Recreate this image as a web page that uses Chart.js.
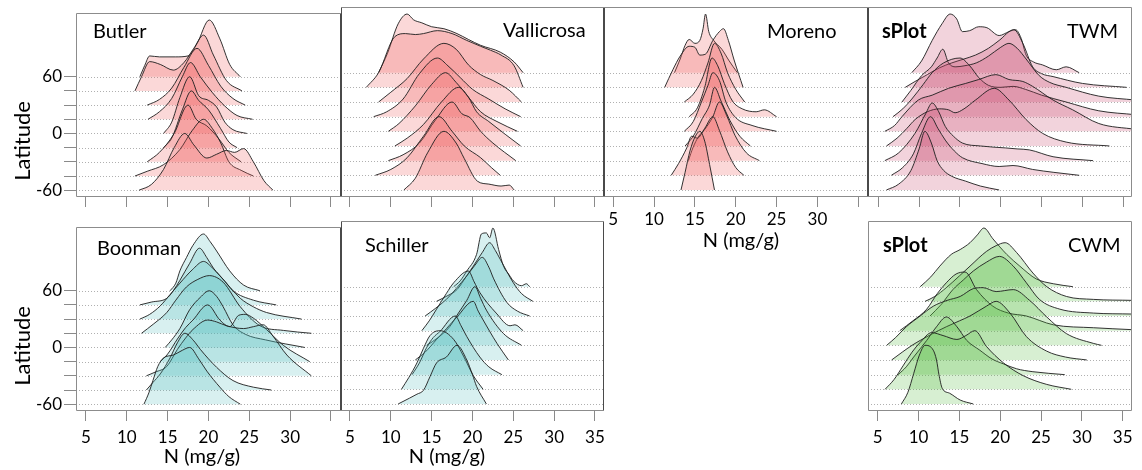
<!DOCTYPE html>
<html><head><meta charset="utf-8">
<script src="https://cdn.jsdelivr.net/npm/chart.js@4.4.1/dist/chart.umd.min.js"></script>
<style>
html,body{margin:0;padding:0;background:#fff;width:1142px;height:470px;overflow:hidden;position:relative}
canvas{position:absolute}
</style></head><body>
<script>
// ---------- data ----------
const baselines = [60, 45, 30, 15, 0, -15, -30, -45, -60];   // latitude of each ridge
const yTickLabels = [60, 0, -60];
const xTickValues = [5, 10, 15, 20, 25, 30, 35];
const xLabelsNone = [];
const xLabelsTo30 = [5, 10, 15, 20, 25, 30];
const xLabelsAll = [5, 10, 15, 20, 25, 30, 35];

// each ridge: [N (mg/g), ridge height in latitude units]
const butler = [
 [[11.6,0],[12.2,12],[12.8,22],[14,21],[16,21],[17.5,22],[18.6,35],[20.1,60],[21.4,40],[22.6,13],[23.9,0]],
 [[11.0,0],[11.8,15],[12.8,31],[14.1,28],[15.7,22],[17.0,30],[18.2,45],[19.4,59],[20.6,38],[22.2,11],[24.1,0]],
 [[12.5,0],[14,6],[15.5,18],[17,40],[18.6,60],[20,42],[21.5,20],[23,7],[24.5,0]],
 [[12.6,0],[14,8],[15.5,22],[16.8,45],[17.8,60],[19,45],[20.5,28],[22,14],[23.5,4],[25.4,0]],
 [[14.5,0],[15.5,12],[16.5,38],[17.7,60],[18.8,40],[20,35],[21,28],[22,12],[23,4],[24.7,0]],
 [[14.5,0],[15.5,10],[16.8,40],[17.9,60],[18.8,50],[20,40],[21.5,20],[22.5,6],[23.5,0]],
 [[12.5,0],[14,10],[15.8,30],[17.5,60],[18.5,45],[19.8,38],[21.3,24],[22.5,10],[24,0]],
 [[11.0,0],[12.5,5],[14.5,12],[16.5,28],[18,48],[19.4,60],[20.5,50],[21.5,35],[22.5,15],[24,6],[25.5,0]],
 [[11.5,0],[13,6],[14.5,22],[15.8,45],[17.1,60],[18.2,48],[19.8,34],[21,38],[22.2,42],[23.2,40],[24.3,44],[25.5,30],[26.8,10],[27.9,0]]
];
const vallicrosa = [
 [[8.5,0],[9.6,20],[10.9,50],[12.0,60],[12.8,54],[13.8,51],[15.0,47],[16.5,45],[18.1,40],[19.5,34],[21,28],[23.4,21],[25.1,11],[26.2,0]],
 [[7.0,0],[8.5,15],[10.5,52],[11.8,55],[13,54],[14,55],[15.7,58],[17.5,55],[19.3,48],[21,42],[22.2,38],[23.5,33],[25.1,22],[26.2,0]],
 [[8.5,0],[10,10],[12,24],[14,44],[16.5,60],[18,54],[19.5,38],[21,28],[22.5,22],[24.5,12],[26,0]],
 [[7.9,0],[9.5,5],[11.5,18],[13.5,44],[15.7,60],[17,52],[18.5,40],[20,28],[22,18],[24,8],[25.9,0]],
 [[9.7,0],[11,8],[13,26],[15,48],[16.7,60],[18,50],[19.5,35],[21,20],[23,10],[25.5,0]],
 [[10.5,0],[12,8],[14,22],[16.2,45],[18.3,60],[19.5,50],[20.5,35],[22,25],[24,12],[25.9,0]],
 [[9.7,0],[11.5,6],[13.5,18],[15.5,42],[17.5,60],[18.7,48],[19.7,44],[21,30],[22.5,18],[25.3,0]],
 [[8.1,0],[10,6],[12,18],[14,40],[15.9,60],[17.5,45],[19,30],[21,18],[22.3,8],[23.4,0]],
 [[11.6,0],[13,12],[14.5,38],[16.5,60],[18,48],[19,32],[20.6,9],[22,6],[23.5,4],[24.5,5],[25.1,0]]
];
const moreno = [
 [[12.5,0],[13.2,14],[13.8,28],[14.3,34],[15,30],[15.6,33],[16.0,45],[16.3,60],[16.7,42],[17.3,33],[18.3,24],[19.2,12],[20.2,0]],
 [[11.3,0],[12.3,18],[13.2,32],[14.3,42],[15,41],[15.6,33],[16.3,34],[17.2,48],[18.0,57],[18.5,60],[19.1,48],[19.8,28],[20.9,0]],
 [[13.7,0],[14.8,8],[15.8,22],[16.6,40],[17.4,60],[18.2,50],[19,30],[20,13],[21.1,0]],
 [[14.3,0],[15.3,9],[16.2,30],[17.1,60],[17.8,52],[18.6,34],[19.6,16],[20.8,8],[22.5,5],[23.5,7],[25,0]],
 [[13.7,0],[14.8,10],[15.8,30],[16.6,47],[17.2,60],[18,52],[18.8,30],[20,14],[22,6],[25,0]],
 [[13.8,0],[14.8,10],[15.9,28],[16.8,42],[17.4,60],[18.2,46],[19.3,26],[20.5,10],[21.8,0]],
 [[14.2,0],[14.8,14],[15.4,24],[16.2,32],[17.2,45],[18,60],[18.9,46],[19.9,26],[21.3,8],[22.9,0]],
 [[12.1,0],[13,12],[14,28],[14.6,40],[15.3,38],[16.2,48],[17.2,60],[18,46],[19,24],[20,8],[21,0]],
 [[13.3,0],[13.8,18],[14.4,40],[15,54],[15.6,60],[16.2,50],[16.8,26],[17.4,0]]
];
const twm = [
 [[9.1,0],[10.3,12],[11.6,33],[12.8,50],[13.8,60],[14.6,55],[15.3,42],[16.2,43],[17.3,47],[18.3,46],[19.8,38],[21,42],[21.8,44],[22.5,35],[23.1,18],[24,11],[25.1,8],[26.8,3],[28,6],[29.6,0]],
 [[8.3,0],[9.5,6],[11,13],[12.5,20],[14,25],[15.5,29],[16.9,33],[18.5,40],[19.8,48],[21.6,59],[22.7,45],[23.9,21],[25,14],[26.4,11],[30,4],[35.4,0]],
 [[7.9,0],[9,12],[10.3,27],[11.5,36],[12.2,45],[12.9,54],[13.6,40],[14.5,36],[15.5,37],[17,40],[18.5,47],[20,56],[21,60],[22,55],[23.1,44],[24.7,27],[26,20],[28,15],[32,6],[36.5,2]],
 [[6.8,0],[8,8],[9.1,18],[10.5,33],[11.6,45],[13,55],[15,60],[16.2,52],[17.3,40],[18.5,32],[20,30],[21.5,31],[23,28],[25,22],[28,15],[32,6],[36.5,2]],
 [[5.8,0],[7,6],[7.9,15],[9.9,32],[11.6,37],[13.6,44],[15.7,49],[17.3,53],[19.4,58],[21,53],[22.7,51],[23.9,46],[26.4,32],[28.8,22],[32,8],[36.5,2]],
 [[6,0],[7.3,8],[8.5,18],[9.5,27],[11,35],[12.5,38],[13.6,37],[14.4,34],[15.5,38],[16.9,47],[19.2,59],[21,47],[23.1,27],[25.1,13],[28,4],[33.3,0]],
 [[5.8,0],[7.5,8],[9.5,28],[10.8,48],[11.6,59],[12.4,50],[13.2,35],[14.2,25],[15.3,18],[17.5,15],[20.6,13],[22,12],[23.5,11],[26.4,4],[31.3,0]],
 [[6.6,0],[8,8],[9.3,22],[10.3,43],[11.4,60],[12.3,48],[13.2,36],[14.3,25],[15.3,18],[17.7,12],[19.8,9],[21.5,10],[23.9,6],[26.5,3],[29.6,0]],
 [[6,0],[7.5,6],[9,20],[10,42],[10.7,60],[11.5,48],[12.2,30],[13,20],[14,14],[15.7,9],[17.5,4],[19.8,0]]
];
const boonman = [
 [[15.3,0],[16,8],[16.5,21],[17.3,35],[18.1,48],[19.4,60],[20.2,52],[21,42],[22.6,21],[24.3,6],[26.3,0]],
 [[11.6,0],[13,3],[14.9,7],[15.7,15],[16.5,26],[17.7,44],[18.9,60],[19.8,50],[20.6,39],[22,25],[23,15],[25.5,5],[28.3,0]],
 [[11.6,0],[12.8,5],[14.1,14],[15.3,26],[16.5,38],[18,52],[19.4,61],[20.5,54],[21.4,46],[23.9,22],[25.5,13],[27.1,7],[31.4,0]],
 [[11.8,0],[13.3,10],[14.9,22],[16,35],[17.3,49],[18.7,57],[20.1,61],[21.8,54],[23.9,28],[26.3,8],[29.2,3],[32.6,0]],
 [[14.7,0],[15.5,8],[16.5,20],[17.7,40],[19,53],[20.1,60],[21,54],[21.8,43],[23,24],[24.5,14],[27,8],[31.8,0]],
 [[14.1,0],[15,8],[16.2,24],[17.2,36],[18.1,44],[19.9,60],[21.4,44],[22.6,37],[23.7,49],[24.5,50],[25.5,46],[27.1,34],[29.2,17],[32.4,0]],
 [[12.4,0],[13.5,4],[14.9,10],[16.2,28],[17.2,40],[18.1,49],[19.9,59],[21,57],[22.2,53],[24.3,50],[25.5,52],[26.7,54],[27.9,42],[29.6,22],[32.6,0]],
 [[12.4,0],[13.2,8],[14.1,17],[15.3,34],[16.2,50],[17.1,60],[18.2,52],[19,43],[21,24],[23,10],[25.5,3],[27.7,0]],
 [[12.1,0],[12.7,12],[13.2,25],[13.8,40],[14.5,49],[15.7,52],[16.8,57],[17.7,60],[18.8,48],[19.8,35],[21.4,18],[22.5,8],[23.9,0]]
];
const schiller = [
 [[17.7,0],[18.5,6],[19.3,16],[20.5,33],[21.1,54],[21.7,55],[22.1,50],[22.5,60],[23.2,38],[23.8,21],[24.5,12],[25,6],[26,1],[26.6,3],[27,0]],
 [[15.6,0],[17,6],[18.1,12],[19.2,25],[20.1,36],[21.2,50],[22.1,60],[22.8,52],[23.4,43],[25,19],[26,8],[27.4,0]],
 [[14.2,0],[15.5,8],[16.8,17],[18,28],[19.3,41],[20.3,52],[21.2,60],[22,50],[22.6,38],[24.2,14],[25.5,5],[27,0]],
 [[13.8,0],[14.7,10],[15.6,22],[16.8,38],[17.7,49],[19.5,61],[20.2,50],[20.9,39],[22.9,18],[24.6,5],[25.2,6],[26.2,0]],
 [[14.4,0],[15.8,8],[17.2,19],[18.2,32],[19.3,46],[20.3,60],[21,48],[21.7,36],[23.8,12],[26,0]],
 [[13,0],[14.2,8],[15.6,21],[16.8,32],[18.1,44],[20.1,60],[20.7,50],[21.3,41],[23,17],[24.4,0]],
 [[12.6,0],[13.5,12],[14.4,28],[15.2,38],[16,44],[17.9,60],[18.6,50],[19.3,39],[20.9,18],[22,8],[23.6,0]],
 [[11.3,0],[12.2,12],[13.2,27],[14,42],[14.8,55],[16,60],[17.7,51],[18.9,34],[20.1,14],[21.3,0]],
 [[10.9,0],[12.3,6],[13.2,10],[14,14],[14.8,28],[15.6,42],[16.8,48],[18.1,60],[19.3,45],[20,30],[20.5,18],[21.7,0]]
];
const cwm = [
 [[10.2,0],[11.5,10],[12.6,21],[14,33],[15.1,38],[16.3,45],[17.2,53],[18.0,60],[19.1,49],[20.8,33],[22.4,21],[24.4,8],[26.5,3],[28.9,0]],
 [[10.8,0],[12,5],[13.4,14],[15,26],[16.3,36],[18.3,51],[19.5,57],[20.6,60],[22,50],[24,29],[25.7,15],[28.1,5],[31.4,2],[36.2,1]],
 [[11.4,0],[12.8,12],[14.2,27],[15.5,37],[16.7,46],[18.3,55],[19.9,61],[21.6,51],[23.2,34],[24.8,17],[27.3,7],[31.4,3],[36.2,2]],
 [[7.7,0],[9.3,10],[11,22],[12.3,38],[13.4,49],[14.6,58],[15.7,60],[17.1,42],[19.1,25],[21,18],[23.2,15],[26.5,6],[31.4,3],[36.2,1]],
 [[6.1,0],[7.2,8],[8.5,19],[10.2,30],[11.8,40],[13.5,46],[15.1,50],[16.7,58],[17.9,59],[19.5,55],[21.6,57],[23.6,46],[25.7,29],[28.1,12],[31.4,2],[32.4,0]],
 [[6.7,0],[8,8],[9.2,15],[10.2,20],[11.5,26],[13.4,34],[15,40],[16.3,45],[18.3,55],[19.5,60],[21.2,48],[23.2,24],[25.7,9],[28,3],[30.6,0]],
 [[7.5,0],[8.5,8],[9.4,18],[11,35],[12.2,49],[13.4,59],[14.7,49],[15.9,35],[17.5,25],[19,16],[20.4,11],[22,6],[24,3],[27.9,0]],
 [[5.9,0],[7,10],[8.1,24],[9.2,38],[10.2,48],[11.6,58],[13,55],[14.7,51],[15.8,55],[16.9,60],[18.3,44],[20.4,27],[22.8,14],[25.7,5],[28.7,0]],
 [[7.9,0],[8.7,12],[9.4,31],[10.1,50],[10.8,60],[11.8,55],[12.2,45],[12.5,30],[12.9,16],[13.8,11],[15.1,4],[16.7,0]]
];

// ---------- styles / layout ----------
Chart.defaults.font.family = "Lato, 'DejaVu Sans', sans-serif";
const PXU = 8.1667;           // pixels per N unit
const Y_MIN = -67.2, Y_MAX = 127.2;
const PINK = 'rgba(238,90,90,0.24)';
const ROSE = 'rgba(200,70,110,0.24)';
const TEAL = 'rgba(70,185,185,0.21)';
const GREEN = 'rgba(80,185,60,0.23)';
const LINE = 'rgba(30,30,30,0.9)';
const OUTER = '#8c8c8c', INNER = '#4a4a4a';

const panels = [
 {ridges: butler, box:[76,7,341,197], xmin:3.78, yAxis:true, xLabels:xLabelsNone, xPad:2, fill:PINK, lc:OUTER, rc:INNER,
  texts:[{s:'Butler',x:93,y:38},{s:'Latitude',x:23,y:141,rot:true}]},
 {ridges: vallicrosa, box:[341,7,604,197], xmin:3.9, yAxis:false, xLabels:xLabelsNone, xPad:2, fill:PINK, lc:INNER, rc:INNER,
  texts:[{s:'Vallicrosa',x:503,y:37}]},
 {ridges: moreno, box:[604,7,868,197], xmin:3.87, yAxis:false, xLabels:xLabelsTo30, xPad:2, fill:PINK, lc:INNER, rc:INNER,
  texts:[{s:'Moreno',x:767,y:38},{s:'N (mg/g)',x:741,y:241,axis:true}]},
 {ridges: twm, box:[868,7,1132,197], xmin:3.74, yAxis:false, xLabels:xLabelsNone, xPad:2, fill:ROSE, lc:INNER, rc:OUTER,
  texts:[{s:'sPlot',x:882,y:38,bold:true},{s:'TWM',x:1067,y:38}]},
 {ridges: boonman, box:[76,221,341,411], xmin:3.78, yAxis:true, xLabels:xLabelsTo30, xPad:6, fill:TEAL, lc:OUTER, rc:INNER,
  texts:[{s:'Boonman',x:97,y:255},{s:'Latitude',x:23,y:346,rot:true},{s:'N (mg/g)',x:202,y:457,axis:true}]},
 {ridges: schiller, box:[341,221,604,411], xmin:3.9, yAxis:false, xLabels:xLabelsAll, xPad:6, fill:TEAL, lc:INNER, rc:INNER,
  texts:[{s:'Schiller',x:365,y:252},{s:'N (mg/g)',x:447,y:457,axis:true}]},
 {ridges: cwm, box:[868,221,1132,411], xmin:3.81, yAxis:false, xLabels:xLabelsAll, xPad:6, fill:GREEN, lc:OUTER, rc:OUTER,
  texts:[{s:'sPlot',x:883,y:252,bold:true},{s:'CWM',x:1068,y:252}]}
];

function makePanel(p) {
  const yW = p.yAxis ? 76 : 0;
  const PADL = p.yAxis ? 0 : 16, PADR = 16, PADT = 6, PADB = 4, XH = 56;
  const boxW = p.box[2] - p.box[0], boxH = p.box[3] - p.box[1];
  const cl = p.box[0] - yW - PADL, ct = p.box[1] - PADT;
  const cw = PADL + yW + boxW + PADR, ch = PADT + boxH + XH + PADB;
  const cv = document.createElement('canvas');
  cv.width = cw; cv.height = ch;
  cv.style.left = cl + 'px'; cv.style.top = ct + 'px';
  cv.style.width = cw + 'px'; cv.style.height = ch + 'px';
  document.body.appendChild(cv);

  const deco = {
    id: 'deco',
    beforeDatasetsDraw(chart) {
      const ctx = chart.ctx, a = chart.chartArea, ys = chart.scales.y;
      ctx.save();
      ctx.strokeStyle = '#b0b0b0'; ctx.lineWidth = 1; ctx.setLineDash([1, 2]);
      baselines.forEach(b => {
        const y = Math.round(ys.getPixelForValue(b)) + 0.5;
        ctx.beginPath(); ctx.moveTo(a.left, y); ctx.lineTo(a.right, y); ctx.stroke();
      });
      ctx.restore();
    },
    afterDraw(chart) {
      const ctx = chart.ctx, a = chart.chartArea;
      ctx.save();
      ctx.lineWidth = 1;
      const L = Math.round(a.left) + 0.5, R = Math.round(a.right) - 0.5, T = Math.round(a.top) + 0.5, B = Math.round(a.bottom) - 0.5;
      ctx.strokeStyle = OUTER;
      ctx.beginPath(); ctx.moveTo(L, T); ctx.lineTo(R, T); ctx.moveTo(L, B); ctx.lineTo(R, B); ctx.stroke();
      ctx.strokeStyle = p.lc; ctx.beginPath(); ctx.moveTo(L, T); ctx.lineTo(L, B); ctx.stroke();
      ctx.strokeStyle = p.rc; ctx.beginPath(); ctx.moveTo(R, T); ctx.lineTo(R, B); ctx.stroke();
      ctx.fillStyle = '#000';
      p.texts.forEach(t => {
        const x = t.x - cl, y = t.y - ct;
        if (t.rot) {
          ctx.save(); ctx.translate(x, y); ctx.rotate(-Math.PI / 2);
          ctx.font = "22px Lato, 'DejaVu Sans', sans-serif";
          ctx.textAlign = 'center'; ctx.textBaseline = 'middle';
          ctx.fillText(t.s, 0, 0); ctx.restore();
        } else if (t.axis) {
          ctx.font = "20px Lato, 'DejaVu Sans', sans-serif";
          ctx.textAlign = 'center'; ctx.textBaseline = 'middle';
          ctx.fillText(t.s, x, y);
        } else {
          ctx.font = (t.bold ? 'bold ' : '') + "20px Lato, 'DejaVu Sans', sans-serif";
          ctx.textAlign = 'left'; ctx.textBaseline = 'alphabetic';
          ctx.fillText(t.s, x, y);
        }
      });
      ctx.restore();
    }
  };

  const n = p.ridges.length;
  const datasets = p.ridges.map((r, i) => ({
    data: r.map(([x, h]) => ({x: x, y: baselines[i] + h})),
    fill: {value: baselines[i]},
    backgroundColor: p.fill,
    borderColor: LINE,
    borderWidth: 1,
    pointRadius: 0,
    tension: 0.4,
    cubicInterpolationMode: 'monotone',
    order: n - 1 - i
  }));

  new Chart(cv, {
    type: 'line',
    data: {datasets},
    options: {
      responsive: false, animation: false, devicePixelRatio: 1, events: [],
      layout: {padding: {left: PADL, right: PADR, top: PADT, bottom: PADB}},
      plugins: {legend: {display: false}, tooltip: {enabled: false}},
      scales: {
        x: {
          type: 'linear', min: p.xmin, max: p.xmin + boxW / PXU,
          afterBuildTicks: s => { s.ticks = xTickValues.map(v => ({value: v})); },
          afterFit: s => { s.height = XH; },
          ticks: {autoSkip: false, maxRotation: 0, minRotation: 0, padding: p.xPad, color: '#000',
                  font: {size: 17}, callback: v => p.xLabels.includes(v) ? String(v) : ''},
          grid: {drawOnChartArea: false, drawTicks: true, tickLength: 10, color: '#8a8a8a'},
          border: {display: false}
        },
        y: {
          type: 'linear', min: Y_MIN, max: Y_MAX, display: p.yAxis,
          afterBuildTicks: s => { s.ticks = baselines.map(v => ({value: v})); },
          afterFit: s => { s.width = yW; },
          ticks: {autoSkip: false, padding: 2, color: '#000', font: {size: 17},
                  callback: v => yTickLabels.includes(v) ? String(v) : ''},
          grid: {drawOnChartArea: false, drawTicks: true, tickLength: 12, color: '#8a8a8a'},
          border: {display: false}
        }
      }
    },
    plugins: [deco]
  });
}
panels.forEach(makePanel);
</script>
</body></html>
